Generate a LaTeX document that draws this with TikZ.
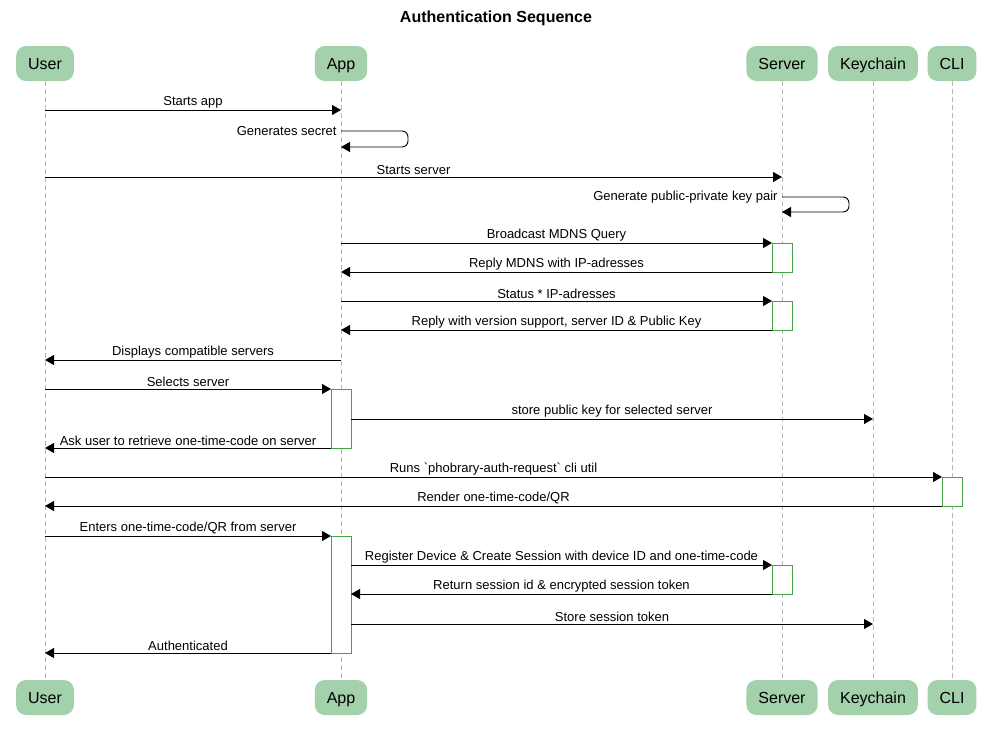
\documentclass[tikz,border=0pt]{standalone}
\usepackage{fontspec}
\setmainfont{Liberation Sans}
\usetikzlibrary{arrows.meta}
\definecolor{partfill}{RGB}{163,209,171}
\definecolor{actline}{RGB}{72,160,72}
\definecolor{lifegray}{RGB}{185,185,185}

\begin{document}
\begin{tikzpicture}[x=1pt,y=-1pt,>={Triangle[length=9pt,width=10pt]},
  part/.style={fill=partfill,draw=none,rounded corners=10pt,minimum height=35pt,inner xsep=12pt,
    text height=13pt,text depth=2pt,font=\fontsize{16}{18}\selectfont},
  life/.style={lifegray,dashed,dash pattern=on 5pt off 3pt,line width=0.8pt},
  msg/.style={->,line width=0.9pt},
  act/.style={draw=actline,fill=white,line width=0.9pt},
  lbl/.style={font=\fontsize{13}{15}\selectfont,inner sep=1.5pt}]
  \useasboundingbox (0,0) rectangle (991,740);
  \node[font=\bfseries\fontsize{16}{18}\selectfont] (title) at (496,18) {Authentication Sequence};
  % participants, top and bottom
  \foreach \n/\x/\t in {user/45/User,app/341/App,server/782/Server,keychain/873/Keychain,cli/952/CLI} {
    \node[part] (\n) at (\x,63.5) {\t};
    \node[part] (\n b) at (\x,697.5) {\t};
    \draw[life] (\n) -- (\n b);
  }
  % activations
  \foreach \n/\ya/\yb in {server/243/272,server/301/330,app/389/448,cli/477/506,app/536/653,server/565/594}
    \draw[act] ([xshift=-10pt]\n |- 0,\ya) rectangle ([xshift=10pt]\n |- 0,\yb);
  % self messages
  \draw[msg,rounded corners=6pt] (app |- 0,131) coordinate (s1a) node[lbl,left,inner sep=4pt] {Generates secret}
    -- (408,131) -- (408,147) -- (app |- 0,147) coordinate (s1b);
  \draw[msg,rounded corners=6pt] (server |- 0,197) coordinate (s2a) node[lbl,left,inner sep=4pt] {Generate public-private key pair}
    -- (849,197) -- (849,212) -- (server |- 0,212) coordinate (s2b);
  % messages
  \foreach \i/\a/\da/\b/\db/\y/\t in {
    1/user/0/app/0/110/{Starts app},
    2/user/0/server/0/177/{Starts server},
    3/app/0/server/-10/243/{Broadcast MDNS Query},
    4/server/-10/app/0/272/{Reply MDNS with IP-adresses},
    5/app/0/server/-10/301/{Status * IP-adresses},
    6/server/-10/app/0/330/{Reply with version support, server ID \& Public Key},
    7/app/0/user/0/360/{Displays compatible servers},
    8/user/0/app/-10/389/{Selects server},
    9/app/10/keychain/0/419/{store public key for selected server},
    10/app/-10/user/0/448/{Ask user to retrieve one-time-code on server},
    11/user/0/cli/-10/477/{Runs \textasciigrave phobrary-auth-request\textasciigrave{} cli util},
    12/cli/-10/user/0/506/{Render one-time-code/QR},
    13/user/0/app/-10/536/{Enters one-time-code/QR from server},
    14/app/10/server/-10/565/{Register Device \& Create Session with device ID and one-time-code},
    15/server/-10/app/10/594/{Return session id \& encrypted session token},
    16/app/10/keychain/0/624/{Store session token},
    17/app/-10/user/0/653/{Authenticated}}
    \draw[msg] ([xshift=\da pt]\a |- 0,\y) coordinate (m\i a) -- ([xshift=\db pt]\b |- 0,\y) coordinate (m\i b)
      node[lbl,midway,above] {\t};
\end{tikzpicture}
\end{document}
